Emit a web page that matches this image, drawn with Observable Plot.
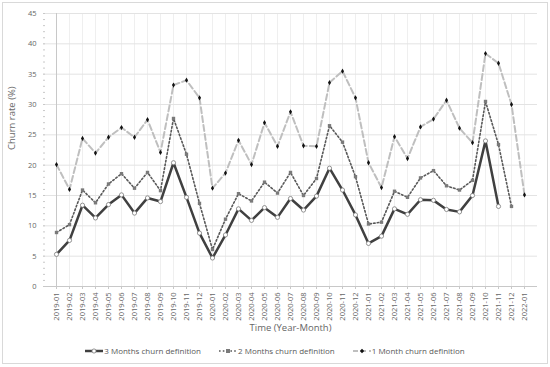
<!DOCTYPE html>
<html><head><meta charset="utf-8">
<script src="https://cdn.jsdelivr.net/npm/d3@7"></script>
<script src="https://cdn.jsdelivr.net/npm/@observablehq/plot@0.6"></script>
<style>
html,body{margin:0;padding:0;background:#fff;}
#frame{position:absolute;left:2px;top:2px;width:546px;height:362px;border:1px solid #d9d9d9;box-sizing:border-box;}
#chart{position:absolute;left:0;top:0;}
#legend{position:absolute;left:0;top:345px;width:550px;display:flex;justify-content:center;gap:18px;font:8px "Open Sans";color:#595959;align-items:center;}
#legend .item{display:flex;align-items:center;gap:1px;}
</style></head><body>
<div id="frame"></div>
<div id="chart"></div>
<div id="legend"></div>
<script>
const months = ["2019-01","2019-02","2019-03","2019-04","2019-05","2019-06","2019-07","2019-08","2019-09","2019-10","2019-11","2019-12",
"2020-01","2020-02","2020-03","2020-04","2020-05","2020-06","2020-07","2020-08","2020-09","2020-10","2020-11","2020-12",
"2021-01","2021-02","2021-03","2021-04","2021-05","2021-06","2021-07","2021-08","2021-09","2021-10","2021-11","2021-12","2022-01"];
const churn3 = [5.3,7.6,13.4,11.3,13.5,15.1,12.1,14.6,14.0,20.4,14.7,8.8,4.7,8.5,12.8,10.9,13.0,11.4,14.5,12.6,14.9,19.5,15.9,11.8,7.1,8.3,12.8,11.9,14.3,14.2,12.7,12.3,15.0,24.0,13.2];
const churn2 = [8.9,10.2,15.9,13.8,16.9,18.6,16.2,18.8,15.8,27.7,21.8,13.7,6.1,11.1,15.3,14.1,17.2,15.4,18.8,15.0,17.8,26.5,23.8,18.1,10.3,10.6,15.7,14.7,17.9,19.1,16.6,15.9,17.5,30.5,23.4,13.2];
const churn1 = [20.1,16.0,24.4,22.0,24.6,26.2,24.6,27.5,22.1,33.2,34.0,31.1,16.2,18.7,24.1,20.1,27.0,23.1,28.8,23.2,23.1,33.6,35.5,31.1,20.4,16.3,24.7,21.1,26.3,27.6,30.7,26.1,23.7,38.4,36.8,30.0,15.1];
const seriesNames = ["3 Months churn definition","2 Months churn definition","1 Month churn definition"];
const yTicks = [0,5,10,15,20,25,30,35,40,45];
const yMinor = d3.range(0,46);
const xTitle = "Time (Year-Month)";
const yTitle = "Churn rate (%)";

const toRows = (vals) => vals.map((v,i) => ({month: months[i], value: v}));
const r3 = toRows(churn3), r2 = toRows(churn2), r1 = toRows(churn1);

const chart = Plot.plot({
  width: 550, height: 340,
  marginLeft: 43, marginRight: 13, marginTop: 13, marginBottom: 54,
  style: {fontFamily: "Open Sans", fontSize: "7.5px", color: "#595959", background: "transparent"},
  x: {type: "point", domain: months, padding: 0},
  y: {domain: [0, 45]},
  marks: [
    Plot.gridX(months, {stroke: "#efefef", strokeOpacity: 1}),
    Plot.gridY(yTicks, {stroke: "#e3e3e3", strokeOpacity: 1}),
    Plot.ruleY([0], {stroke: "#c8c8c8"}),
    Plot.ruleX([months[0]], {stroke: "#c8c8c8"}),
    Plot.axisY(yMinor, {tickSize: 2, dx: 2, text: null, stroke: "#c8c8c8", label: null}),
    Plot.axisY(yTicks, {tickSize: 0, tickPadding: 7, label: null, fontSize: 7.5, fill: "#666"}),
    Plot.axisX(months, {tickSize: 3, tickRotate: -90, tickPadding: 3, stroke: "#c8c8c8", fill: "#666", label: null, fontSize: 7.5}),
    Plot.text([xTitle], {frameAnchor: "bottom", dy: 41, lineAnchor: "middle", fontSize: 9.5, fill: "#666"}),
    Plot.text([yTitle], {frameAnchor: "left", dx: -32, rotate: -90, lineAnchor: "middle", fontSize: 9.5, fill: "#666"}),
    Plot.line(r1, {x: "month", y: "value", stroke: "#bfbfbf", strokeWidth: 2, strokeDasharray: "6,3"}),
    Plot.line(r2, {x: "month", y: "value", stroke: "#595959", strokeWidth: 1.6, strokeDasharray: "1.6,2.2"}),
    Plot.line(r3, {x: "month", y: "value", stroke: "#404040", strokeWidth: 2.5}),
    Plot.dot(r1, {x: "month", y: "value", symbol: "diamond", r: 1.6, fill: "#111"}),
    Plot.dot(r2, {x: "month", y: "value", symbol: "square", r: 1.9, fill: "#7a7a7a"}),
    Plot.dot(r3, {x: "month", y: "value", symbol: "circle", r: 2.1, fill: "#fff", stroke: "#7a7a7a", strokeWidth: 0.8})
  ]
});
document.getElementById("chart").append(chart);

const swatches = [
  `<svg width="18" height="8"><line x1="0" y1="4" x2="18" y2="4" stroke="#404040" stroke-width="2.5"/><circle cx="9" cy="4" r="2.1" fill="#fff" stroke="#7a7a7a" stroke-width="0.8"/></svg>`,
  `<svg width="18" height="8"><line x1="0" y1="4" x2="18" y2="4" stroke="#595959" stroke-width="1.6" stroke-dasharray="1.6,2.2"/><rect x="7" y="2" width="4" height="4" fill="#7a7a7a"/></svg>`,
  `<svg width="18" height="8"><line x1="0" y1="4" x2="18" y2="4" stroke="#bfbfbf" stroke-width="2" stroke-dasharray="5,3"/><path d="M9,1.8L11.2,4L9,6.2L6.8,4Z" fill="#111"/></svg>`
];
const leg = document.getElementById("legend");
seriesNames.forEach((n, i) => {
  const d = document.createElement("div");
  d.className = "item";
  d.innerHTML = swatches[i] + `<span>${n}</span>`;
  leg.append(d);
});
</script>
</body></html>
